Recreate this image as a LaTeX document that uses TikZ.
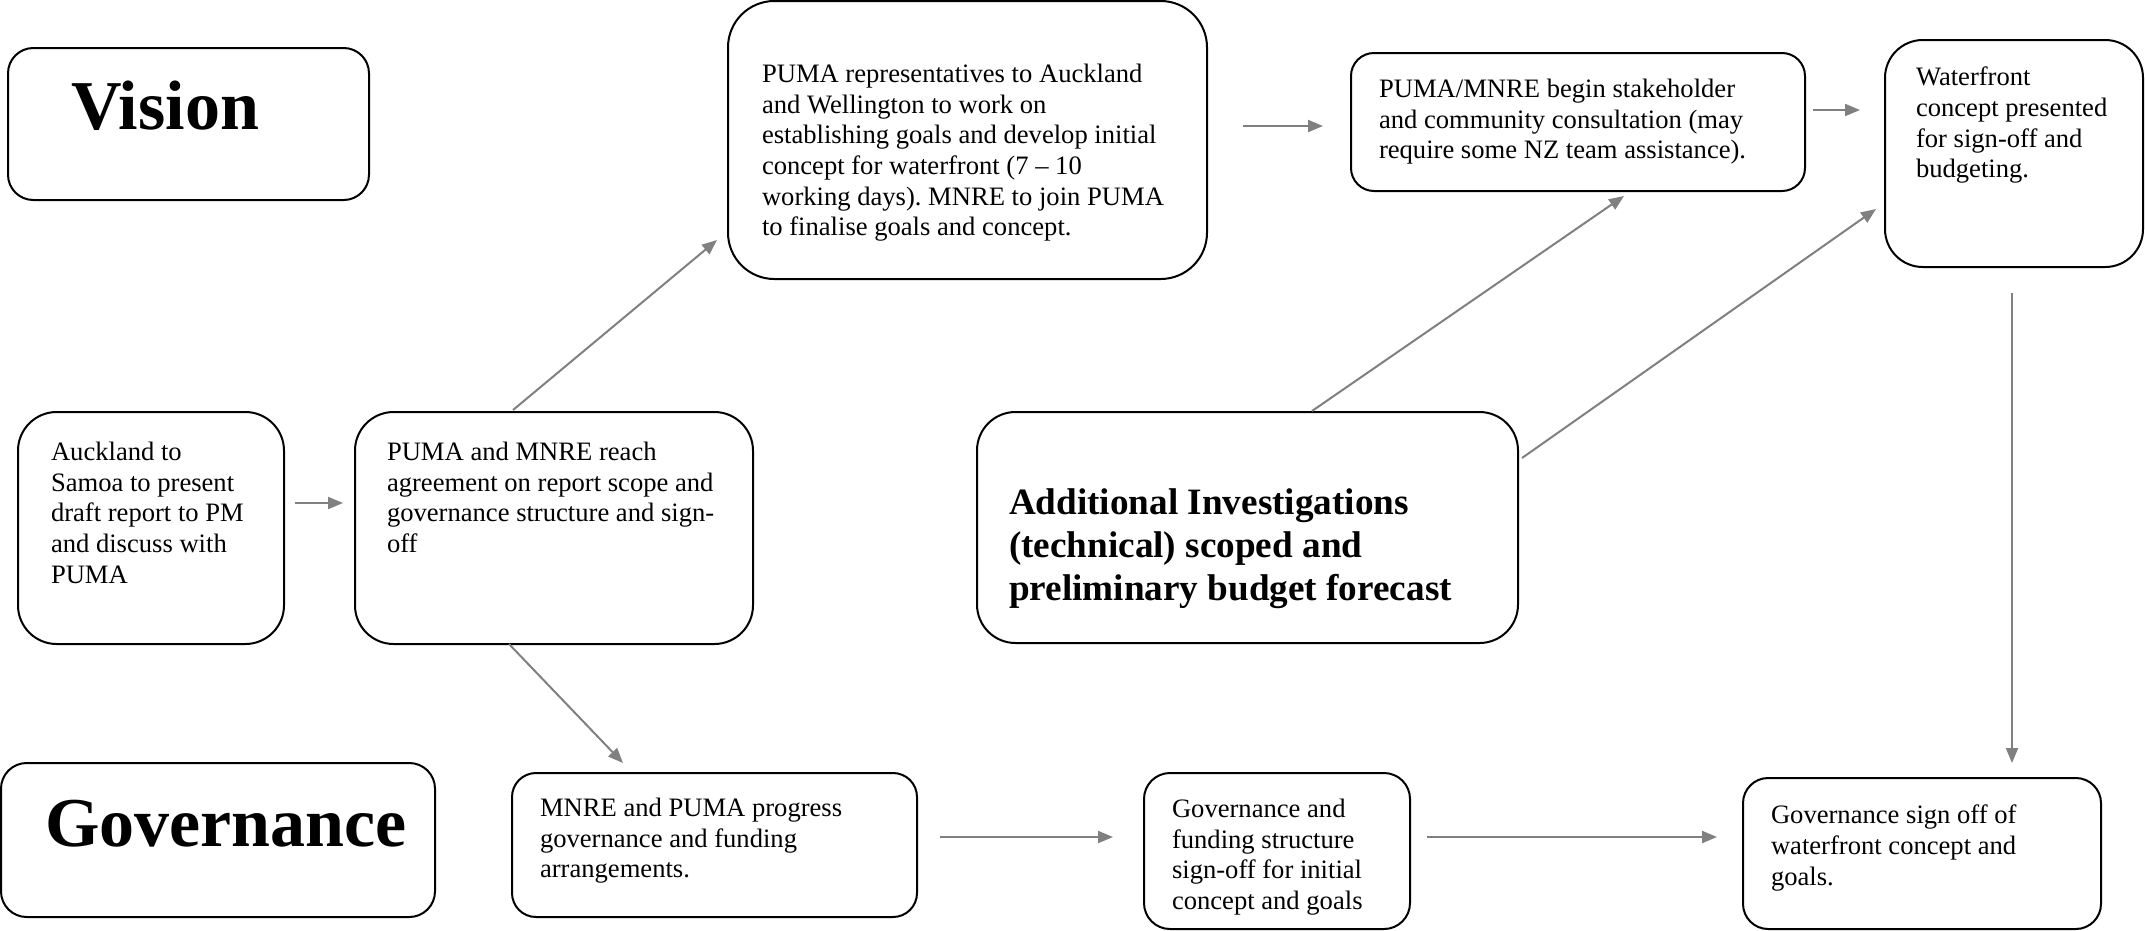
\documentclass[tikz,border=0pt]{standalone}
\usepackage{fontspec}
\setmainfont{Liberation Serif}
\usetikzlibrary{arrows.meta,calc}
\frenchspacing
\tikzset{
  box/.style={draw=black, line width=2pt, anchor=north west, outer sep=0pt},
  body/.style={font=\fontsize{26.6}{30.7}\selectfont},
  title/.style={font=\fontsize{70}{80}\selectfont\bfseries},
  subtitle/.style={font=\fontsize{37.2}{43}\selectfont\bfseries},
  conn/.style={draw=black!50, line width=2pt, -{Triangle[length=15pt,width=12pt]}},
}
% #1 style, #2 name, #3 x1, #4 y1, #5 x2, #6 y2, #7 left pad, #8 top pad, #9 text
\newcommand\mybox[9]{%
  \pgfmathsetmacro\bw{#5-#3}%
  \pgfmathsetmacro\bh{#6-#4}%
  \pgfmathsetmacro\br{min(#5-#3,#6-#4)/6}%
  \node[box,#1,inner sep=0pt,rounded corners=\br pt] (#2) at (#3,#4)
    {\parbox[b][\bh pt][t]{\bw pt}{\vspace*{#8pt}\raggedright\frenchspacing\leftskip=#7pt\relax #9\par}};}
\begin{document}
\begin{tikzpicture}[x=1pt,y=-1pt]
\path[fill=white, use as bounding box] (0,0) rectangle (2145,930);

\mybox{title}{vision}{8}{48}{369}{200}{63}{33}{Vision}
\mybox{body}{reps}{728}{1}{1207}{279}{34}{63}{PUMA representatives to Auckland\\ and Wellington to work on\\ establishing goals and develop initial\\ concept for waterfront (7 \textendash{} 10\\ working days). MNRE to join PUMA\\ to finalise goals and concept.}
\mybox{body}{consult}{1351}{53}{1805}{191}{28}{26}{PUMA/MNRE begin stakeholder\\ and community consultation (may\\ require some NZ team assistance).}
\mybox{body}{water}{1885}{40}{2143}{267}{31}{27}{Waterfront\\ concept presented\\ for sign-off and\\ budgeting.}
\mybox{body}{auck}{18}{412}{284}{644}{33}{30}{Auckland to\\ Samoa to present\\ draft report to PM\\ and discuss with\\ PUMA}
\mybox{body}{reach}{355}{412}{753}{644}{32}{30}{PUMA and MNRE reach\\ agreement on report scope and\\ governance structure and sign-\\ off}
\mybox{subtitle}{add}{977}{412}{1518}{643}{32}{77}{Additional Investigations\\ (technical) scoped and\\ preliminary budget forecast}
\mybox{title}{gov}{1}{763}{435}{917}{44}{37}{Governance}
\mybox{body}{prog}{512}{773}{917}{917}{28}{25}{MNRE and PUMA progress\\ governance and funding\\ arrangements.}
\mybox{body}{fund}{1144}{773}{1410}{929}{28}{26}{Governance and\\ funding structure\\ sign-off for initial\\ concept and goals}
\mybox{body}{sign}{1743}{778}{2101}{929}{28}{27}{Governance sign off of\\ waterfront concept and\\ goals.}

\draw[conn] ($(auck.east)+(11,-25)$) -- ($(reach.west)+(-12,-25)$);
\draw[conn] ($(reach.north)+(-41,-2)$) -- ($(reps.south west)+(-11,-39)$);
\draw[conn] ($(reach.south)+(-45,0)$) -- ($(prog.north)+(-91.5,-10)$);
\draw[conn] ($(reps.east)+(36,-14)$) -- ($(consult.west)+(-28,4)$);
\draw[conn] ($(consult.east)+(8,-12)$) -- ($(water.west)+(-25,-43.5)$);
\draw[conn] ($(add.north)+(64.5,-1)$) -- ($(consult.south)+(46,5)$);
\draw[conn] ($(add.north east)+(4,46)$) -- ($(water.west)+(-9,55.5)$);
\draw[conn] ($(water.south)+(-2,26)$) -- ($(sign.north)+(90,-15)$);
\draw[conn] ($(prog.east)+(23,-8)$) -- ($(fund.west)+(-31,-14)$);
\draw[conn] ($(fund.east)+(17,-14)$) -- ($(sign.west)+(-26,-16.5)$);
\end{tikzpicture}
\end{document}
